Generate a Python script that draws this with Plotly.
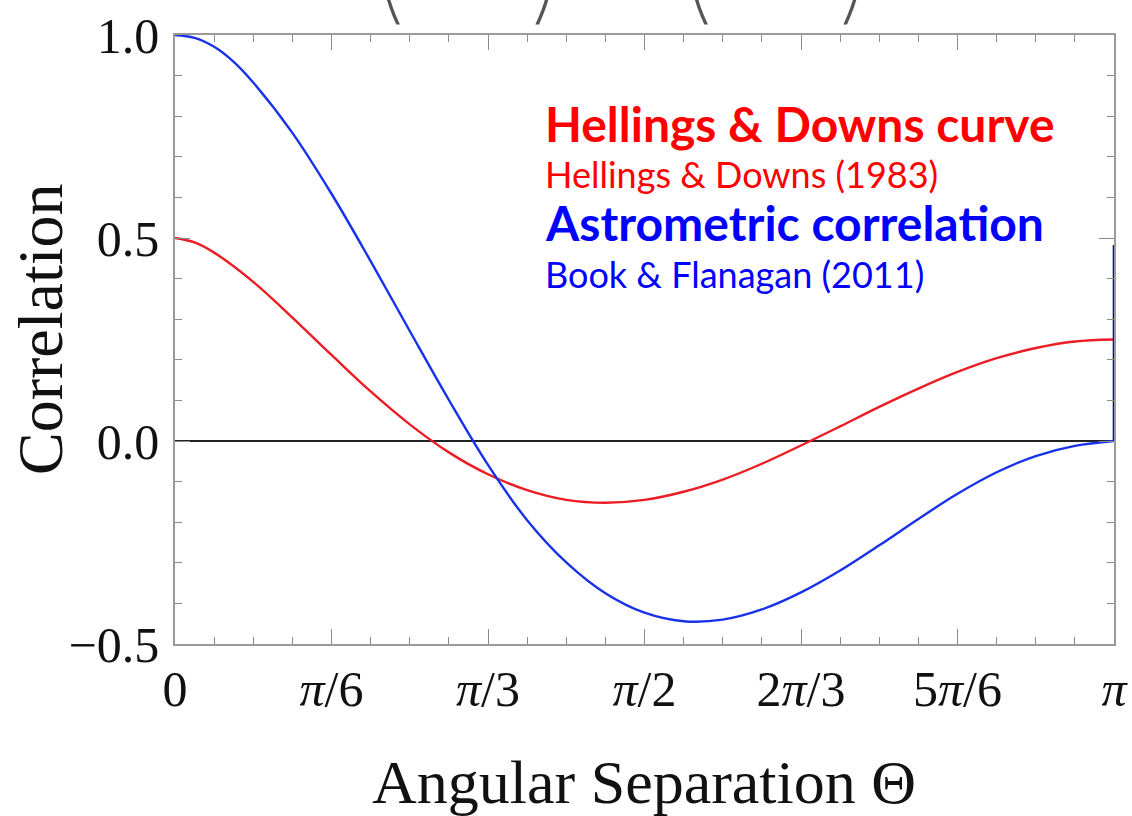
import plotly.graph_objects as go

# Angular separation in degrees (0 .. 180)
theta_hd = [0, 3.75, 7.5, 15, 22.5, 30, 37.5, 45, 52.5, 60, 67.5, 75, 82.5, 90,
            97.5, 105, 112.5, 120, 127.5, 135, 142.5, 150, 157.5, 165, 172.5, 180]
theta_astro = [0, 3.75, 7.5, 11.25, 15, 22.5, 30, 37.5, 45, 52.5, 60, 67.5, 75, 82.5, 90,
               97.5, 105, 112.5, 120, 127.5, 135, 142.5, 150, 157.5, 165, 172.5, 180]

# Hellings & Downs correlation
hd_corr = [0.500, 0.489, 0.464, 0.392, 0.304, 0.212, 0.122, 0.041, -0.028, -0.082,
           -0.121, -0.145, -0.152, -0.145, -0.125, -0.095, -0.056, -0.011, 0.036,
           0.084, 0.129, 0.170, 0.204, 0.229, 0.245, 0.250]

# Astrometric correlation (Book & Flanagan)
astro_corr = [1.000, 0.993, 0.971, 0.934, 0.883, 0.759, 0.609, 0.443, 0.271, 0.101, -0.059,
              -0.195, -0.299, -0.375, -0.423, -0.444, -0.440, -0.415, -0.373, -0.319,
              -0.257, -0.192, -0.130, -0.077, -0.037, -0.012, 0.000]

# jump of the astrometric curve at Theta = pi
astro_end_theta = [180, 180]
astro_end_corr = [0.000, 0.483]

x_tickvals = [0, 30, 60, 90, 120, 150, 180]
x_ticktext = ["0", "<i>π</i>/6", "<i>π</i>/3", "<i>π</i>/2", "2<i>π</i>/3", "5<i>π</i>/6", "<i>π</i>"]
y_tickvals = [-0.5, 0.0, 0.5, 1.0]
y_ticktext = ["−0.5", "0.0", "0.5", "1.0"]

RED_LINE = "#ec1c24"
BLUE_LINE = "#1832ea"
RED_TEXT = "#ff0000"
BLUE_TEXT = "#0000ff"
SERIF = "Liberation Serif"
SANS = "Lato"

fig = go.Figure()
fig.add_trace(go.Scatter(x=theta_hd, y=hd_corr, mode="lines",
                         line=dict(color=RED_LINE, width=2.4, shape="spline", smoothing=1.0),
                         showlegend=False, hoverinfo="skip"))
fig.add_trace(go.Scatter(x=theta_astro, y=astro_corr, mode="lines",
                         line=dict(color=BLUE_LINE, width=2.4, shape="spline", smoothing=1.0),
                         showlegend=False, hoverinfo="skip"))
fig.add_trace(go.Scatter(x=astro_end_theta, y=astro_end_corr, mode="lines",
                         line=dict(color="#0c0cb0", width=2.6),
                         showlegend=False, hoverinfo="skip", cliponaxis=False))

axis_common = dict(
    showline=True, linecolor="#9a9a9a", linewidth=1.6, mirror="ticks",
    ticks="inside", ticklen=15, tickwidth=1.2, tickcolor="#8a8a8a",
    showgrid=False, automargin=False,
    tickfont=dict(family=SERIF, size=50, color="#111111"),
)

fig.update_xaxes(
    range=[0, 180], tickmode="array", tickvals=x_tickvals, ticktext=x_ticktext,
    zeroline=False, ticklabelstandoff=0,
    minor=dict(ticks="inside", ticklen=7.5, tickwidth=1.0, tickcolor="#8a8a8a",
               tick0=0, dtick=7.5, showgrid=False),
    **axis_common,
)
fig.update_yaxes(
    range=[-0.5, 1.0], tickmode="array", tickvals=y_tickvals, ticktext=y_ticktext,
    zeroline=True, zerolinecolor="#222222", zerolinewidth=1.6, ticklabelstandoff=4,
    minor=dict(ticks="inside", ticklen=7.5, tickwidth=1.0, tickcolor="#8a8a8a",
               tick0=0, dtick=0.1, showgrid=False),
    **axis_common,
)

L, R, T, B = 175, 18, 35, 172
W, H = 1132, 816
pw, ph = W - L - R, H - T - B


def px_to_paper(px, py):
    return (px - L) / pw, (H - B - py) / ph


annotations = []

# axis titles
ax, ay = px_to_paper(644, 782)
annotations.append(dict(text="Angular Separation Θ", x=ax, y=ay, xref="paper", yref="paper",
                        xanchor="center", yanchor="middle", showarrow=False,
                        font=dict(family=SERIF, size=62, color="#111111")))
ax, ay = px_to_paper(40, 330)
annotations.append(dict(text="Correlation", x=ax, y=ay, xref="paper", yref="paper",
                        xanchor="center", yanchor="middle", showarrow=False, textangle=-90,
                        font=dict(family=SERIF, size=64, color="#111111")))

# curve labels
labels = [
    ("<b>Hellings &amp; Downs curve</b>", 123, 48, RED_TEXT),
    ("Hellings &amp; Downs (1983)", 174, 36, RED_TEXT),
    ("<b>Astrometric correlation</b>", 223, 48, BLUE_TEXT),
    ("Book &amp; Flanagan (2011)", 274, 36, BLUE_TEXT),
]
for text, py, size, color in labels:
    ax, ay = px_to_paper(543, py)
    annotations.append(dict(text=text, x=ax, y=ay, xref="paper", yref="paper",
                            xanchor="left", yanchor="middle", showarrow=False,
                            font=dict(family=SANS, size=size, color=color)))

# bottoms of the bracketed formula above the plot
for ch, px in [("(", 386), (")", 548), ("(", 694), (")", 856)]:
    ax, ay = px_to_paper(px, 42)
    annotations.append(dict(text=ch, x=ax, y=ay, xref="paper", yref="paper",
                            xanchor="center", yanchor="bottom", showarrow=False,
                            font=dict(family="Inter", size=150, weight=100, color="#555555")))

fig.update_layout(
    width=W, height=H,
    margin=dict(l=L, r=R, t=T, b=B, pad=0),
    paper_bgcolor="white", plot_bgcolor="white",
    annotations=annotations,
    showlegend=False,
)

fig.write_html("out.html")
